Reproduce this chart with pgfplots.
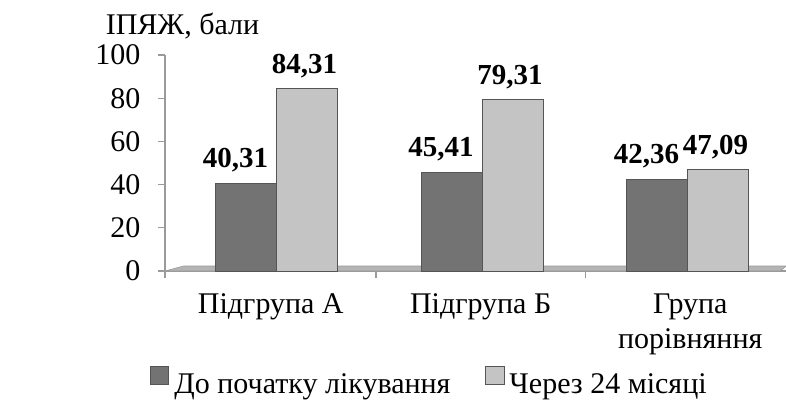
\documentclass[border=0pt]{standalone}
\usepackage{pgfplots}
\pgfplotsset{compat=1.18}
\usepackage{fontspec}
\setmainfont{Liberation Serif}

\definecolor{darkbar}{HTML}{737373}
\definecolor{lightbar}{HTML}{C4C4C4}
\definecolor{floorc}{HTML}{B4B4B4}
\definecolor{axisc}{HTML}{9A9A9A}
\definecolor{edgec}{HTML}{555555}

\newcommand{\bigfont}{\fontsize{30bp}{35bp}\selectfont}

\begin{document}
\begin{tikzpicture}
\useasboundingbox (0,0) rectangle (786bp,401bp);
\begin{axis}[
    at={(165bp,130bp)}, anchor=south west,
    scale only axis,
    width=621bp, height=216bp,
    xmin=-0.545, xmax=2.477,
    ymin=0, ymax=100,
    clip=false,
    axis lines*=left,
    axis line style={axisc, line width=1.2bp},
    tick label style={font=\bigfont},
    ytick={0,20,40,60,80,100},
    yticklabels={0,20,40,60,80,100},
    tick align=outside,
    major tick length=7bp,
    major y tick style={axisc, line width=1.2bp},
    yticklabel style={xshift=-14bp},
    xtick={-0.03,0.991,2.011},
    xticklabels={Підгрупа А, Підгрупа Б, {Група\\порівняння}},
    xticklabel style={align=center, yshift=-12bp},
    major x tick style={draw=none},
    extra x ticks={-0.545,0.482,1.5},
    extra x tick labels={},
    extra x tick style={major x tick style={draw=axisc, line width=1.2bp}},
    ybar=0pt, bar width=61bp,
    nodes near coords={\pgfmathprintnumber[fixed,fixed zerofill,precision=2,use comma,assume math mode=true]{\pgfplotspointmeta}},
    every node near coord/.append style={font=\bfseries\fontsize{29bp}{33bp}\selectfont, inner sep=0pt, yshift=11bp},
    legend style={at={(0.426,-0.512)}, anchor=center, draw=none, fill=none,
        legend columns=2, font=\bigfont,
        /tikz/every even column/.append style={column sep=33bp},
        nodes={inner sep=2bp}},
    legend image code/.code={\draw[#1] (0bp,0bp) rectangle (18bp,18bp);},
    legend cell align=left,
]
% підлога
\fill[floorc, draw=axisc, line width=0.6bp] (axis cs:-0.545,0) -- (axis cs:-0.455,2.3) -- (axis cs:2.477,2.3) -- (axis cs:2.45,0) -- cycle;

\addplot[fill=darkbar, draw=edgec, line width=1bp,
    every node near coord/.append style={xshift=-11bp}]
    coordinates {(0,40.31) (1,45.41) (2,42.36)};
\addlegendentry{\hspace{3bp}До початку лікування}
\addplot[fill=lightbar, draw=edgec, line width=1bp,
    every node near coord/.append style={xshift=-3bp, yshift=-1bp}]
    coordinates {(0,84.31) (1,79.31) (2,47.09)};
\addlegendentry{\hspace{3bp}Через 24 місяці}

\node[anchor=base, font=\bigfont] at (axis cs:-0.46,109.3) {ІПЯЖ, бали};
\end{axis}
\end{tikzpicture}
\end{document}
